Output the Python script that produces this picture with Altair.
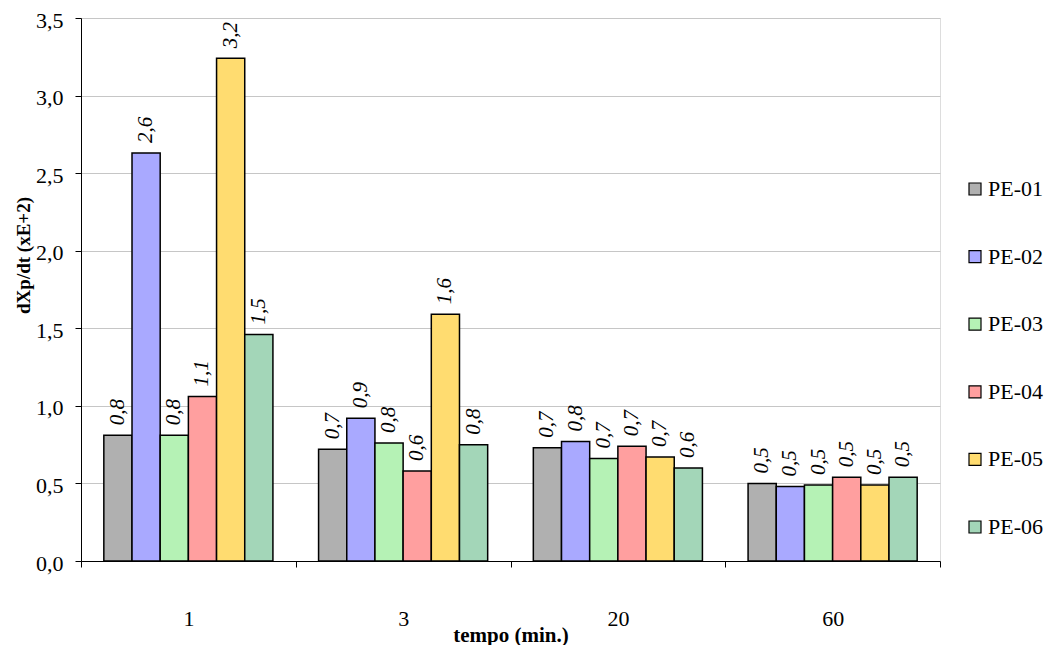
import altair as alt
import pandas as pd

tempos = ["1", "3", "20", "60"]
series = ["PE-01", "PE-02", "PE-03", "PE-04", "PE-05", "PE-06"]
pe01 = [0.81, 0.72, 0.73, 0.50]
pe02 = [2.63, 0.92, 0.77, 0.48]
pe03 = [0.81, 0.76, 0.66, 0.49]
pe04 = [1.06, 0.58, 0.74, 0.54]
pe05 = [3.24, 1.59, 0.67, 0.49]
pe06 = [1.46, 0.75, 0.60, 0.54]
colors = ["#b0b0b0", "#a9a9ff", "#b5f2b5", "#ff9f9f", "#ffdc70", "#a3d6b8"]

rows = []
for name, vals in zip(series, [pe01, pe02, pe03, pe04, pe05, pe06]):
    for t, v in zip(tempos, vals):
        rows.append({"tempo": t, "serie": name, "valor": v,
                     "rotulo": f"{v:.1f}".replace(".", ",")})
df = pd.DataFrame(rows)

FONT = "Liberation Serif"

x_enc = alt.X("tempo:N", sort=tempos, title="tempo (min.)",
              scale=alt.Scale(paddingInner=0, paddingOuter=0),
              axis=alt.Axis(labelAngle=0, tickBand="extent", grid=False,
                            domainColor="black", tickColor="black", tickSize=6,
                            labelPadding=41, labelFontSize=22, labelFont=FONT,
                            labelColor="black", titleFont=FONT, titleFontSize=21,
                            titleFontWeight="bold", titleColor="black",
                            titleY=80, titleBaseline="alphabetic"))
xo_enc = alt.XOffset("serie:N", sort=series,
                     scale=alt.Scale(paddingInner=0, paddingOuter=0.81))
y_enc = alt.Y("valor:Q", title="dXp/dt (xE+2)",
              scale=alt.Scale(domain=[0, 3.5], nice=False),
              axis=alt.Axis(values=[0, 0.5, 1, 1.5, 2, 2.5, 3, 3.5],
                            labelExpr="replace(format(datum.value, '.1f'), '.', ',')",
                            domainColor="black", tickColor="black", tickSize=6,
                            gridColor="#c6c6c6", labelFontSize=22, labelFont=FONT,
                            labelColor="black", labelPadding=12, labelOffset=2,
                            titleFont=FONT, titleFontSize=19, titleFontWeight="bold",
                            titleColor="black", titleX=-58, titleY=237,
                            titleBaseline="middle", titleAlign="center"))

bars = alt.Chart(df).mark_bar(stroke="black", strokeWidth=1.5).encode(
    x=x_enc, xOffset=xo_enc, y=y_enc,
    fill=alt.Fill("serie:N", sort=series,
                  scale=alt.Scale(domain=series, range=colors),
                  legend=alt.Legend(title=None, orient="none", legendX=883, legendY=160,
                                    symbolType="square", symbolSize=144,
                                    symbolStrokeColor="black", symbolStrokeWidth=1.2,
                                    labelFont=FONT, labelFontSize=22, labelColor="black",
                                    rowPadding=45.6, labelOffset=2)),
)

labels = alt.Chart(df).mark_text(angle=270, align="left", baseline="middle", dx=10,
                                 font=FONT, fontSize=21, fontStyle="italic",
                                 color="black").encode(
    x=alt.X("tempo:N", sort=tempos), xOffset=alt.XOffset("serie:N", sort=series),
    y="valor:Q", text="rotulo:N",
)

chart = alt.layer(bars, labels).properties(
    width=859, height=543,
    autosize=alt.AutoSizeParams(type="none"),
    padding={"left": 73, "top": 10, "right": 112, "bottom": 84},
).configure_view(stroke=None).configure(background="white")

chart.save("out.html", embed_options={"renderer": "svg", "actions": False})
